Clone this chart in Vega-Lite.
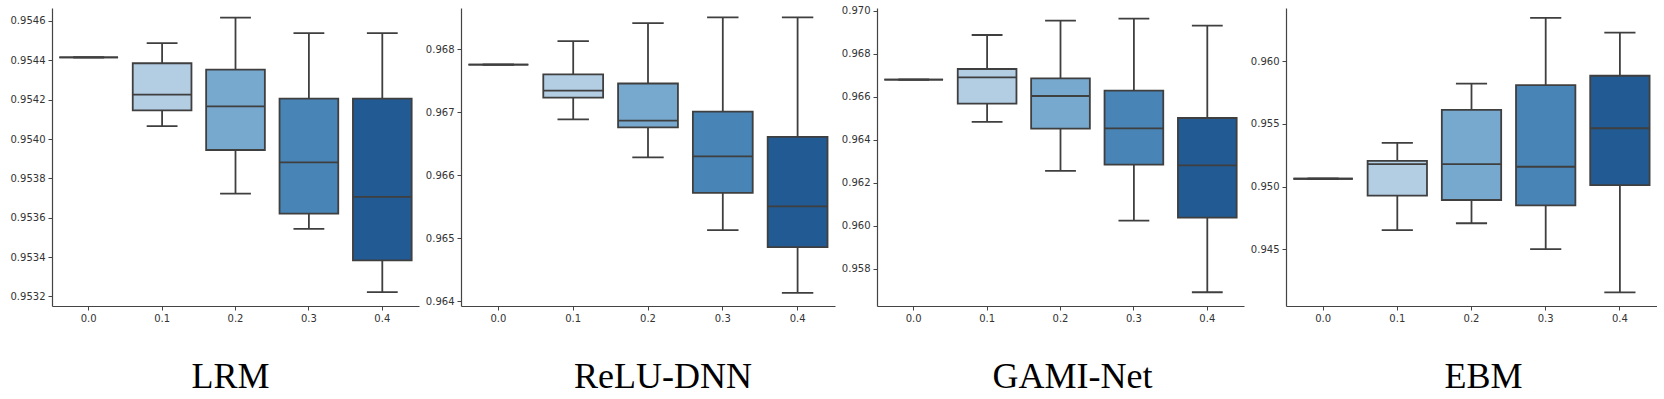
{
  "$schema": "https://vega.github.io/schema/vega-lite/v6.json",
  "padding": {"left": 10, "top": 5, "right": 0, "bottom": 0},
  "background": "white",
  "bounds": "flush",
  "spacing": 42,
  "data": {"values": [
    {"model": "LRM", "g": "0.0", "lower": 0.954415, "q1": 0.954415, "median": 0.954415, "q3": 0.954415, "upper": 0.954415},
    {"model": "LRM", "g": "0.1", "lower": 0.954065, "q1": 0.954146, "median": 0.954226, "q3": 0.954385, "upper": 0.954487},
    {"model": "LRM", "g": "0.2", "lower": 0.953722, "q1": 0.953944, "median": 0.954166, "q3": 0.954353, "upper": 0.954617},
    {"model": "LRM", "g": "0.3", "lower": 0.953543, "q1": 0.953621, "median": 0.953881, "q3": 0.954205, "upper": 0.954538},
    {"model": "LRM", "g": "0.4", "lower": 0.953222, "q1": 0.953383, "median": 0.953706, "q3": 0.954205, "upper": 0.954538},
    {"model": "ReLU-DNN", "g": "0.0", "lower": 0.967755, "q1": 0.967755, "median": 0.967755, "q3": 0.967755, "upper": 0.967755},
    {"model": "ReLU-DNN", "g": "0.1", "lower": 0.966887, "q1": 0.967233, "median": 0.967345, "q3": 0.967601, "upper": 0.968128},
    {"model": "ReLU-DNN", "g": "0.2", "lower": 0.966285, "q1": 0.966759, "median": 0.966866, "q3": 0.967457, "upper": 0.968415},
    {"model": "ReLU-DNN", "g": "0.3", "lower": 0.965129, "q1": 0.965720, "median": 0.966301, "q3": 0.967009, "upper": 0.968506},
    {"model": "ReLU-DNN", "g": "0.4", "lower": 0.964133, "q1": 0.964858, "median": 0.965507, "q3": 0.966610, "upper": 0.968506},
    {"model": "GAMI-Net", "g": "0.0", "lower": 0.966796, "q1": 0.966796, "median": 0.966796, "q3": 0.966796, "upper": 0.966796},
    {"model": "GAMI-Net", "g": "0.1", "lower": 0.964830, "q1": 0.965681, "median": 0.966904, "q3": 0.967291, "upper": 0.968870},
    {"model": "GAMI-Net", "g": "0.2", "lower": 0.962554, "q1": 0.964520, "median": 0.966037, "q3": 0.966858, "upper": 0.969536},
    {"model": "GAMI-Net", "g": "0.3", "lower": 0.960248, "q1": 0.962848, "median": 0.964536, "q3": 0.966285, "upper": 0.969628},
    {"model": "GAMI-Net", "g": "0.4", "lower": 0.956920, "q1": 0.960387, "median": 0.962817, "q3": 0.965015, "upper": 0.969303},
    {"model": "EBM", "g": "0.0", "lower": 0.950620, "q1": 0.950620, "median": 0.950620, "q3": 0.950620, "upper": 0.950620},
    {"model": "EBM", "g": "0.1", "lower": 0.946513, "q1": 0.949269, "median": 0.951786, "q3": 0.952051, "upper": 0.953482},
    {"model": "EBM", "g": "0.2", "lower": 0.947069, "q1": 0.948924, "median": 0.951786, "q3": 0.956105, "upper": 0.958198},
    {"model": "EBM", "g": "0.3", "lower": 0.945003, "q1": 0.948500, "median": 0.951574, "q3": 0.958092, "upper": 0.963445},
    {"model": "EBM", "g": "0.4", "lower": 0.941558, "q1": 0.950117, "median": 0.954648, "q3": 0.958834, "upper": 0.962279}
  ]},
  "hconcat": [
    {
      "width": 367, "height": 298,
      "transform": [{"filter": "datum.model === 'LRM'"}],
      "title": {"text": "LRM", "dx": -5},
      "encoding": {"x": {"field": "g", "type": "nominal", "title": null, "scale": {"paddingInner": 0, "paddingOuter": 0}, "axis": {"labelAngle": 0}}},
      "layer": [
        {"mark": {"type": "rule", "color": "#3f3f3f", "strokeWidth": 1.8},
         "encoding": {"y": {"field": "lower", "type": "quantitative", "title": null, "scale": {"domain": [0.953151, 0.954666], "nice": false, "zero": false}, "axis": {"values": [0.9532, 0.9534, 0.9536, 0.9538, 0.954, 0.9542, 0.9544, 0.9546], "format": ".4f"}}, "y2": {"field": "upper"}}},
        {"mark": {"type": "bar", "width": {"band": 0.42}, "fillOpacity": 0, "stroke": "#3f3f3f", "strokeWidth": 1.8},
         "encoding": {"y": {"field": "lower", "type": "quantitative"}, "y2": {"field": "lower"}}},
        {"mark": {"type": "bar", "width": {"band": 0.42}, "fillOpacity": 0, "stroke": "#3f3f3f", "strokeWidth": 1.8},
         "encoding": {"y": {"field": "upper", "type": "quantitative"}, "y2": {"field": "upper"}}},
        {"mark": {"type": "bar", "width": {"band": 0.8}, "stroke": "#3f3f3f", "strokeWidth": 1.8},
         "encoding": {"y": {"field": "q1", "type": "quantitative"}, "y2": {"field": "q3"}, "color": {"field": "g", "type": "nominal", "legend": null, "scale": {"domain": ["0.0", "0.1", "0.2", "0.3", "0.4"], "range": ["#d0e1f2", "#b3cde3", "#77a9cf", "#4884b6", "#225b93"]}}}},
        {"mark": {"type": "bar", "width": {"band": 0.8}, "fillOpacity": 0, "stroke": "#3f3f3f", "strokeWidth": 1.8},
         "encoding": {"y": {"field": "median", "type": "quantitative"}, "y2": {"field": "median"}}}
      ]
    },
    {
      "width": 374, "height": 298,
      "transform": [{"filter": "datum.model === 'ReLU-DNN'"}],
      "title": {"text": "ReLU-DNN", "dx": 15},
      "encoding": {"x": {"field": "g", "type": "nominal", "title": null, "scale": {"paddingInner": 0, "paddingOuter": 0}, "axis": {"labelAngle": 0}}},
      "layer": [
        {"mark": {"type": "rule", "color": "#3f3f3f", "strokeWidth": 1.8},
         "encoding": {"y": {"field": "lower", "type": "quantitative", "title": null, "scale": {"domain": [0.963925, 0.968655], "nice": false, "zero": false}, "axis": {"values": [0.964, 0.965, 0.966, 0.967, 0.968], "format": ".3f"}}, "y2": {"field": "upper"}}},
        {"mark": {"type": "bar", "width": {"band": 0.42}, "fillOpacity": 0, "stroke": "#3f3f3f", "strokeWidth": 1.8},
         "encoding": {"y": {"field": "lower", "type": "quantitative"}, "y2": {"field": "lower"}}},
        {"mark": {"type": "bar", "width": {"band": 0.42}, "fillOpacity": 0, "stroke": "#3f3f3f", "strokeWidth": 1.8},
         "encoding": {"y": {"field": "upper", "type": "quantitative"}, "y2": {"field": "upper"}}},
        {"mark": {"type": "bar", "width": {"band": 0.8}, "stroke": "#3f3f3f", "strokeWidth": 1.8},
         "encoding": {"y": {"field": "q1", "type": "quantitative"}, "y2": {"field": "q3"}, "color": {"field": "g", "type": "nominal", "legend": null, "scale": {"domain": ["0.0", "0.1", "0.2", "0.3", "0.4"], "range": ["#d0e1f2", "#b3cde3", "#77a9cf", "#4884b6", "#225b93"]}}}},
        {"mark": {"type": "bar", "width": {"band": 0.8}, "fillOpacity": 0, "stroke": "#3f3f3f", "strokeWidth": 1.8},
         "encoding": {"y": {"field": "median", "type": "quantitative"}, "y2": {"field": "median"}}}
      ]
    },
    {
      "width": 367, "height": 298,
      "transform": [{"filter": "datum.model === 'GAMI-Net'"}],
      "title": {"text": "GAMI-Net", "dx": 12},
      "encoding": {"x": {"field": "g", "type": "nominal", "title": null, "scale": {"paddingInner": 0, "paddingOuter": 0}, "axis": {"labelAngle": 0}}},
      "layer": [
        {"mark": {"type": "rule", "color": "#3f3f3f", "strokeWidth": 1.8},
         "encoding": {"y": {"field": "lower", "type": "quantitative", "title": null, "scale": {"domain": [0.956281, 0.970124], "nice": false, "zero": false}, "axis": {"values": [0.958, 0.96, 0.962, 0.964, 0.966, 0.968, 0.97], "format": ".3f"}}, "y2": {"field": "upper"}}},
        {"mark": {"type": "bar", "width": {"band": 0.42}, "fillOpacity": 0, "stroke": "#3f3f3f", "strokeWidth": 1.8},
         "encoding": {"y": {"field": "lower", "type": "quantitative"}, "y2": {"field": "lower"}}},
        {"mark": {"type": "bar", "width": {"band": 0.42}, "fillOpacity": 0, "stroke": "#3f3f3f", "strokeWidth": 1.8},
         "encoding": {"y": {"field": "upper", "type": "quantitative"}, "y2": {"field": "upper"}}},
        {"mark": {"type": "bar", "width": {"band": 0.8}, "stroke": "#3f3f3f", "strokeWidth": 1.8},
         "encoding": {"y": {"field": "q1", "type": "quantitative"}, "y2": {"field": "q3"}, "color": {"field": "g", "type": "nominal", "legend": null, "scale": {"domain": ["0.0", "0.1", "0.2", "0.3", "0.4"], "range": ["#d0e1f2", "#b3cde3", "#77a9cf", "#4884b6", "#225b93"]}}}},
        {"mark": {"type": "bar", "width": {"band": 0.8}, "fillOpacity": 0, "stroke": "#3f3f3f", "strokeWidth": 1.8},
         "encoding": {"y": {"field": "median", "type": "quantitative"}, "y2": {"field": "median"}}}
      ]
    },
    {
      "width": 371, "height": 298,
      "transform": [{"filter": "datum.model === 'EBM'"}],
      "title": {"text": "EBM", "dx": 12},
      "encoding": {"x": {"field": "g", "type": "nominal", "title": null, "scale": {"paddingInner": 0, "paddingOuter": 0}, "axis": {"labelAngle": 0}}},
      "layer": [
        {"mark": {"type": "rule", "color": "#3f3f3f", "strokeWidth": 1.8},
         "encoding": {"y": {"field": "lower", "type": "quantitative", "title": null, "scale": {"domain": [0.940469, 0.964237], "nice": false, "zero": false}, "axis": {"values": [0.945, 0.95, 0.955, 0.96], "format": ".3f"}}, "y2": {"field": "upper"}}},
        {"mark": {"type": "bar", "width": {"band": 0.42}, "fillOpacity": 0, "stroke": "#3f3f3f", "strokeWidth": 1.8},
         "encoding": {"y": {"field": "lower", "type": "quantitative"}, "y2": {"field": "lower"}}},
        {"mark": {"type": "bar", "width": {"band": 0.42}, "fillOpacity": 0, "stroke": "#3f3f3f", "strokeWidth": 1.8},
         "encoding": {"y": {"field": "upper", "type": "quantitative"}, "y2": {"field": "upper"}}},
        {"mark": {"type": "bar", "width": {"band": 0.8}, "stroke": "#3f3f3f", "strokeWidth": 1.8},
         "encoding": {"y": {"field": "q1", "type": "quantitative"}, "y2": {"field": "q3"}, "color": {"field": "g", "type": "nominal", "legend": null, "scale": {"domain": ["0.0", "0.1", "0.2", "0.3", "0.4"], "range": ["#d0e1f2", "#b3cde3", "#77a9cf", "#4884b6", "#225b93"]}}}},
        {"mark": {"type": "bar", "width": {"band": 0.8}, "fillOpacity": 0, "stroke": "#3f3f3f", "strokeWidth": 1.8},
         "encoding": {"y": {"field": "median", "type": "quantitative"}, "y2": {"field": "median"}}}
      ]
    }
  ],
  "config": {
    "view": {"stroke": null},
    "axis": {"grid": false, "domainColor": "#444444", "domainWidth": 1.2, "tickColor": "#444444", "tickSize": 4, "tickWidth": 1, "labelColor": "#333333", "labelFont": "DejaVu Sans", "labelFontSize": 10, "labelPadding": 3},
    "title": {"orient": "bottom", "anchor": "middle", "font": "Liberation Serif", "fontSize": 36, "fontWeight": "normal", "color": "#000000", "offset": 37}
  }
}
